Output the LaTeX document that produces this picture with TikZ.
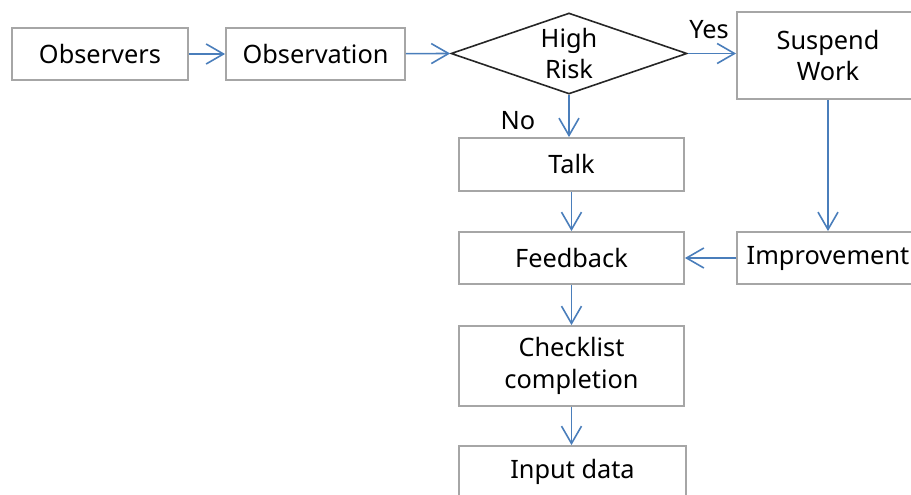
\documentclass[tikz,border=0pt]{standalone}
\usepackage{fontspec}
\setmainfont{Noto Sans}
\usetikzlibrary{shapes.geometric,arrows.meta}
\definecolor{flowblue}{HTML}{4A7EBB}
\definecolor{boxgray}{HTML}{A6A6A6}
\begin{document}
\begin{tikzpicture}[x=0.75pt,y=-0.75pt,
  font=\fontsize{19}{23.5}\selectfont,
  box/.style={draw=boxgray,line width=1.4pt,inner sep=0pt,align=center},
  decision/.style={diamond,draw=black!85,line width=1.2pt,inner sep=0pt,aspect=2.9,
    minimum width=177pt,minimum height=60.75pt,align=center},
  flow/.style={draw=flowblue,line width=1.2pt,-{Straight Barb[length=13pt,width=15pt,line width=1.2pt]}}]
  \useasboundingbox (0,0) rectangle (911,495);
  \clip (0,0) rectangle (911,495);
  % Top row
  \node[box,minimum width=132pt,minimum height=39pt] (obs) at (100,54) {Observers};
  \node[box,minimum width=134.25pt,minimum height=39pt] (obsn) at (315.5,54) {Observation};
  \node[decision] (risk) at (569,53.5) {High\\Risk};
  \node[box,minimum width=136.5pt,minimum height=65.25pt] (susp) at (828,55.5) {Suspend\\Work};
  % Left column
  \node[box,minimum width=168.75pt,minimum height=39.75pt] (talk) at (571.5,164.5) {Talk};
  \node[box,minimum width=168.75pt,minimum height=39pt] (feed) at (571.5,258) {Feedback};
  \node[box,minimum width=168.75pt,minimum height=60pt] (check) at (571.5,366) {Checklist\\completion};
  \node[box,minimum width=170.25pt,minimum height=39pt] (input) at (572.5,472) {Input data};
  % Right column
  \node[box,minimum width=136.5pt,minimum height=39pt] (impr) at (828,258) {Improvement};
  % Branch labels
  \node (yes) at (709,30) {Yes};
  \node (no) at (518,121) {No};
  % Connectors
  \draw[flow] (obs) -- (obsn);
  \draw[flow] (obsn) -- (risk.west);
  \draw[flow] (risk.east) -- (risk.east -| susp.west);
  \draw[flow] (risk.south) -- (risk.south |- talk.north);
  \draw[flow] (talk) -- (feed);
  \draw[flow] (susp) -- (impr);
  \draw[flow] (impr) -- (feed);
  \draw[flow] (feed) -- (check);
  \draw[flow] (check.south) -- (check.south |- input.north);
\end{tikzpicture}
\end{document}
